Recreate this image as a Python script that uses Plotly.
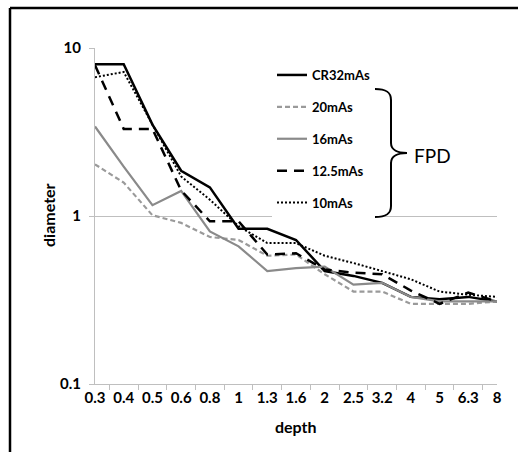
import plotly.graph_objects as go

depth = ["0.3", "0.4", "0.5", "0.6", "0.8", "1", "1.3", "1.6", "2", "2.5", "3.2", "4", "5", "6.3", "8"]
cr32 = [8.0, 8.0, 3.5, 1.86, 1.48, 0.84, 0.84, 0.72, 0.47, 0.44, 0.40, 0.33, 0.32, 0.33, 0.31]
fpd20 = [2.03, 1.58, 1.01, 0.91, 0.75, 0.72, 0.58, 0.59, 0.45, 0.355, 0.355, 0.30, 0.30, 0.30, 0.31]
fpd16 = [3.41, 1.97, 1.16, 1.41, 0.81, 0.66, 0.47, 0.49, 0.50, 0.39, 0.40, 0.33, 0.31, 0.31, 0.31]
fpd125 = [7.9, 3.3, 3.3, 1.42, 0.93, 0.93, 0.59, 0.60, 0.48, 0.46, 0.45, 0.36, 0.30, 0.35, 0.31]
fpd10 = [6.7, 7.2, 3.5, 1.72, 1.25, 0.87, 0.69, 0.69, 0.58, 0.525, 0.47, 0.42, 0.355, 0.34, 0.33]
ytick_vals = [0.1, 1, 10]
ytick_text = ["0.1", "1", "10"]

W, H = 518, 452
L, R, T, B = 95, 497, 48, 384


def px(x):
    return (x - L) / (R - L)


def py(y):
    return (B - y) / (B - T)


FONT = "Lato, 'Open Sans', sans-serif"

series = [
    ("CR32mAs", cr32, dict(color="black", width=2.5, dash="solid")),
    ("20mAs", fpd20, dict(color="#9a9a9a", width=2.2, dash="5px,3px")),
    ("16mAs", fpd16, dict(color="#8a8a8a", width=2.2, dash="solid")),
    ("12.5mAs", fpd125, dict(color="black", width=2.5, dash="10px,7px")),
    ("10mAs", fpd10, dict(color="black", width=2, dash="2px,2px")),
]

fig = go.Figure()
for i, (name, vals, line) in enumerate(series):
    fig.add_trace(go.Scatter(x=depth, y=vals, name=name, mode="lines",
                             line=line, legendgroup=f"g{i}"))

# brace path (pixel -> paper)
pts = [
    f"M{px(375)},{py(89)}",
    f"C{px(386)},{py(89)} {px(391)},{py(92)} {px(391)},{py(100)}",
    f"L{px(391)},{py(143)}",
    f"C{px(391)},{py(150)} {px(398)},{py(153)} {px(407)},{py(153)}",
    f"C{px(398)},{py(153)} {px(391)},{py(156)} {px(391)},{py(163)}",
    f"L{px(391)},{py(206)}",
    f"C{px(391)},{py(214)} {px(386)},{py(217)} {px(375)},{py(217)}",
]
shapes = [
    dict(type="path", xref="paper", yref="paper", path=" ".join(pts),
         line=dict(color="black", width=2)),
    dict(type="line", xref="paper", yref="paper", x0=px(10), y0=py(452), x1=px(10), y1=py(8),
         line=dict(color="black", width=2.5)),
    dict(type="line", xref="paper", yref="paper", x0=px(10), y0=py(8), x1=px(518), y1=py(8),
         line=dict(color="black", width=2.5)),
]

annotations = [
    dict(text="FPD", xref="paper", yref="paper", x=px(432), y=py(155), showarrow=False,
         font=dict(family=FONT, size=19, color="black"), xanchor="center", yanchor="middle"),
    dict(text="depth", xref="paper", yref="paper", x=px(296), y=py(426), showarrow=False,
         font=dict(family=FONT, size=16, color="black", weight="bold"),
         xanchor="center", yanchor="middle"),
    dict(text="diameter", xref="paper", yref="paper", x=px(48), y=py(215), showarrow=False,
         textangle=-90, font=dict(family=FONT, size=16, color="black", weight="bold"),
         xanchor="center", yanchor="middle"),
]

fig.update_layout(
    width=W, height=H,
    margin=dict(l=L, r=W - R, t=T, b=H - B, pad=0),
    paper_bgcolor="white", plot_bgcolor="white",
    font=dict(family=FONT, color="black"),
    showlegend=True,
    legend=dict(x=px(272), y=py(60), xanchor="left", yanchor="top",
                bgcolor="white", borderwidth=0, tracegroupgap=12,
                font=dict(family=FONT, size=13, color="black", weight="bold"),
                itemwidth=30),
    shapes=shapes,
    annotations=annotations,
    xaxis=dict(type="category", showgrid=False, showline=True, linecolor="#bfbfbf", linewidth=1,
               ticks="outside", tickson="boundaries", ticklen=5, tickcolor="#bfbfbf",
               tickangle=0, automargin=False,
               tickfont=dict(family=FONT, size=15, color="black", weight="bold"),
               zeroline=False, fixedrange=True),
    yaxis=dict(type="log", range=[-1, 1], tickvals=ytick_vals, ticktext=ytick_text,
               showgrid=True, gridcolor="#bfbfbf", gridwidth=1,
               showline=True, linecolor="#bfbfbf", linewidth=1,
               ticks="outside", ticklen=5, tickcolor="#bfbfbf", automargin=False,
               ticklabelstandoff=5,
               tickfont=dict(family=FONT, size=15, color="black", weight="bold"),
               zeroline=False),
)

fig.write_html("out.html", config={"displayModeBar": False},
               post_script="document.body.style.margin='0';")
